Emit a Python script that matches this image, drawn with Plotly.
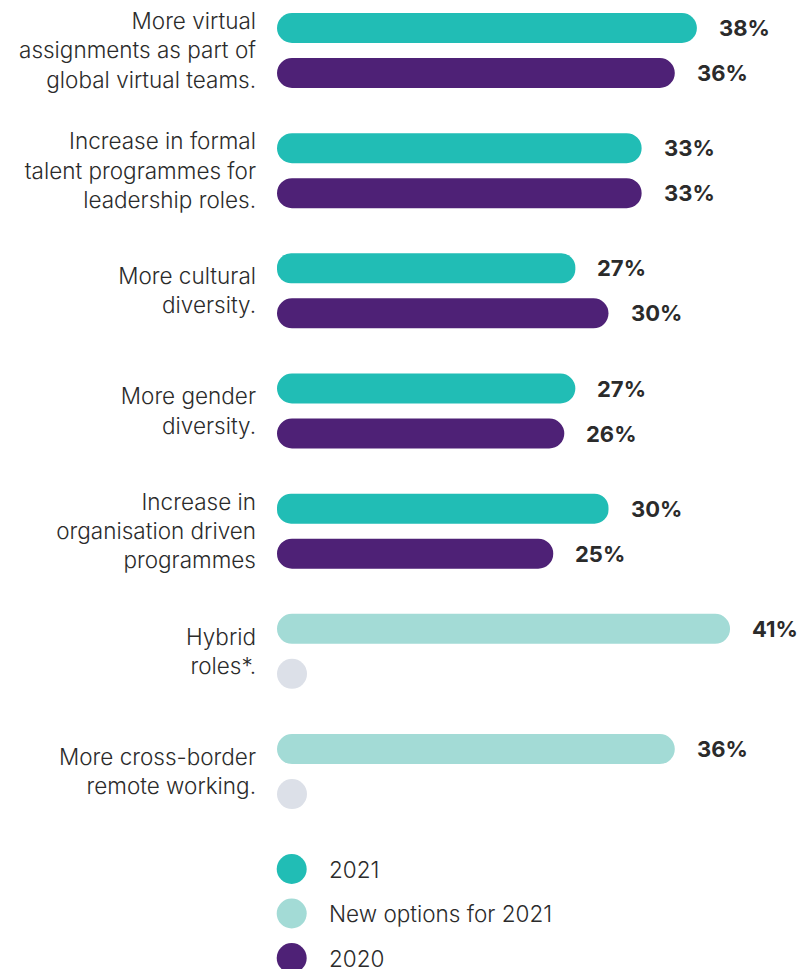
import plotly.graph_objects as go

# ---------------- data ----------------
CATEGORIES = [
    "More virtual<br>assignments as part of<br>global virtual teams.",
    "Increase in formal<br>talent programmes for<br>leadership roles.",
    "More cultural<br>diversity.",
    "More gender<br>diversity.",
    "Increase in<br>organisation driven<br>programmes",
    "Hybrid<br>roles*.",
    "More cross-border<br>remote working.",
]
VALUES_2021 = [38, 33, 27, 27, 30, 41, 36]
VALUES_2020 = [36, 33, 30, 26, 25, None, None]
NEW_OPTION = [False, False, False, False, False, True, True]
LEGEND_LABELS = ["2021", "New options for 2021", "2020"]

# ---------------- style ----------------
TEAL = "#21BDB5"
LIGHT_TEAL = "#A3DBD6"
PURPLE = "#4E2176"
STUB_GREY = "#DCE0E8"
TEXT = "#2B2B2B"
FONT = "Inter"
LEGEND_COLORS = [TEAL, LIGHT_TEAL, PURPLE]

W, H = 802, 969
ML, MR = 277, 5
PLOT_W = W - ML - MR
PX_PER_UNIT = 11.05
X_MAX = PLOT_W / PX_PER_UNIT
DOT = 30                       # bar thickness / dot diameter in px
STUB = DOT / PX_PER_UNIT       # length of the empty placeholder dot in x units
BASE = 1e-6                    # non-zero base so both bar ends get rounded

MAIN_BOTTOM_PX = 840
CAT_PX = 120.17
FIRST_CENTER_PX = 50.5
y_top = -FIRST_CENTER_PX / CAT_PX
y_bot = y_top + MAIN_BOTTOM_PX / CAT_PX
OFF = 22.5 / CAT_PX            # offset of each series from category centre
BAR_W = DOT / CAT_PX

idx = list(range(len(CATEGORIES)))
y21 = [i - OFF for i in idx]
y20 = [i + OFF for i in idx]

colors21 = [LIGHT_TEAL if n else TEAL for n in NEW_OPTION]
len20 = [v if v is not None else STUB for v in VALUES_2020]
colors20 = [PURPLE if v is not None else STUB_GREY for v in VALUES_2020]

fig = go.Figure()
fig.add_trace(go.Bar(
    y=y21, x=VALUES_2021, base=BASE, width=BAR_W, orientation="h",
    marker=dict(color=colors21, line=dict(width=0)),
    hoverinfo="skip", showlegend=False,
))
fig.add_trace(go.Bar(
    y=y20, x=len20, base=BASE, width=BAR_W, orientation="h",
    marker=dict(color=colors20, line=dict(width=0)),
    hoverinfo="skip", showlegend=False,
))

annotations = []
for i in idx:
    annotations.append(dict(
        x=VALUES_2021[i], y=y21[i], xref="x", yref="y",
        text=f"<b>{VALUES_2021[i]}%</b>", showarrow=False,
        xanchor="left", yanchor="middle", xshift=20,
        font=dict(family=FONT, size=22, color=TEXT),
    ))
    if VALUES_2020[i] is not None:
        annotations.append(dict(
            x=VALUES_2020[i], y=y20[i], xref="x", yref="y",
            text=f"<b>{VALUES_2020[i]}%</b>", showarrow=False,
            xanchor="left", yanchor="middle", xshift=20,
            font=dict(family=FONT, size=22, color=TEXT),
        ))

# custom legend
LEG_ROW0 = 869
LEG_STEP = 44.5
leg_top = (MAIN_BOTTOM_PX - LEG_ROW0) / LEG_STEP
leg_bot = (H - LEG_ROW0) / LEG_STEP
rows = list(range(len(LEGEND_LABELS)))
fig.add_trace(go.Scatter(
    x=[14.7] * len(rows), y=rows, xaxis="x2", yaxis="y2",
    mode="markers", marker=dict(size=DOT, color=LEGEND_COLORS, line=dict(width=0)),
    cliponaxis=False, hoverinfo="skip", showlegend=False,
))
for r, lab in zip(rows, LEGEND_LABELS):
    annotations.append(dict(
        x=49.5, y=r, xref="x2", yref="y2", text=lab, showarrow=False,
        xanchor="left", yanchor="middle",
        font=dict(family=FONT, size=22.5, color=TEXT, weight=300),
    ))

fig.update_layout(
    width=W, height=H,
    margin=dict(l=ML, r=MR, t=0, b=0),
    paper_bgcolor="white", plot_bgcolor="white",
    barcornerradius=15,
    showlegend=False,
    font=dict(family=FONT, color=TEXT),
    xaxis=dict(range=[0, X_MAX], visible=False, fixedrange=True),
    yaxis=dict(
        tickmode="array", tickvals=idx, ticktext=CATEGORIES,
        range=[y_bot, y_top], autorange=False,
        domain=[1 - MAIN_BOTTOM_PX / H, 1],
        showgrid=False, zeroline=False, showline=False, ticks="",
        ticklabelstandoff=20,
        tickfont=dict(family=FONT, size=22.5, color=TEXT, weight=300),
    ),
    xaxis2=dict(domain=[0, 1], range=[0, PLOT_W], visible=False, anchor="y2"),
    yaxis2=dict(domain=[0, 1 - MAIN_BOTTOM_PX / H], range=[leg_bot, leg_top],
                visible=False, anchor="x2"),
    annotations=annotations,
)

fig.write_html("out.html")
